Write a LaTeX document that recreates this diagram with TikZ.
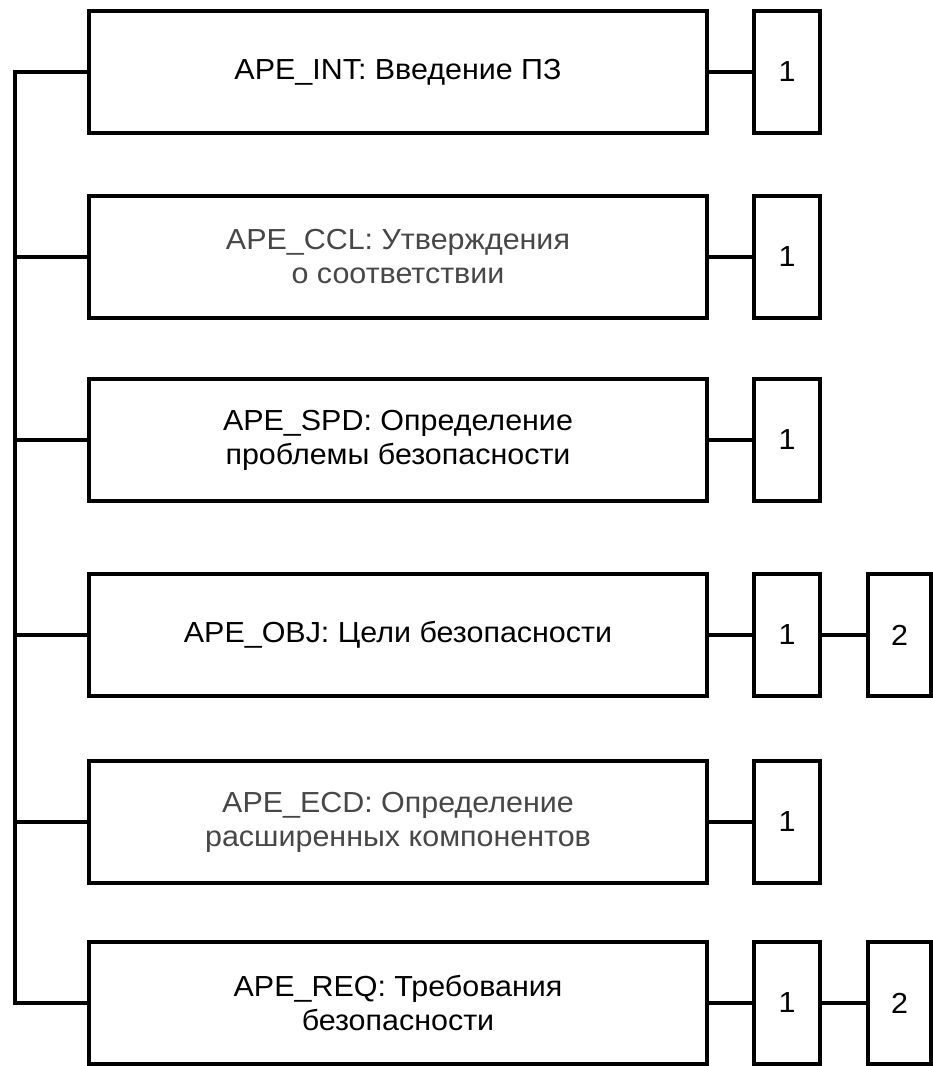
\documentclass[tikz,border=0pt]{standalone}
\usepackage{fontspec}
\setmainfont{Liberation Sans}[FakeStretch=1.05]
\begin{document}
\begin{tikzpicture}[x=1pt,y=-1pt,
  bigbox/.style={draw, line width=4pt, minimum width=618pt, minimum height=122pt, inner sep=0pt, align=center, font=\fontsize{29}{34}\selectfont},
  numbox/.style={draw, line width=4pt, minimum width=66pt, minimum height=122pt, inner sep=0pt, font=\fontsize{29}{34}\selectfont},
  numboxb/.style={numbox, minimum width=63pt},
  light/.style={text=black!72},
  conn/.style={line width=4pt}]
\useasboundingbox (0,0) rectangle (933,1066);
% main boxes
\node[bigbox] (b1) at (398,72) {APE\_INT: Введение ПЗ};
\node[bigbox,light] (b2) at (398,257) {APE\_CCL: Утверждения\\о соответствии};
\node[bigbox] (b3) at (398,440) {APE\_SPD: Определение\\проблемы безопасности};
\node[bigbox] (b4) at (398,635) {APE\_OBJ: Цели безопасности};
\node[bigbox,light] (b5) at (398,822) {APE\_ECD: Определение\\расширенных компонентов};
\node[bigbox] (b6) at (398,1003) {APE\_REQ: Требования\\безопасности};
% level boxes
\node[numbox] (n1) at (787,72) {1};
\node[numbox] (n2) at (787,257) {1};
\node[numbox] (n3) at (787,440) {1};
\node[numbox] (n4) at (787,635) {1};
\node[numbox] (n5) at (787,822) {1};
\node[numbox] (n6) at (787,1003) {1};
\node[numboxb] (m4) at (899.5,635) {2};
\node[numboxb] (m6) at (899.5,1003) {2};
% trunk
\coordinate (t1) at (15,72);
\coordinate (t6) at (15,1003);
\draw[conn] ([yshift=2pt]t1) -- ([yshift=-2pt]t6);
\foreach \i in {1,...,6} {
  \draw[conn] ([xshift=-2pt]t1 |- b\i.west) -- (b\i.west);
}
% right connectors
\foreach \i in {1,...,6} {
  \draw[conn] (b\i.east) -- (n\i.west);
}
\draw[conn] (n4.east) -- (m4.west);
\draw[conn] (n6.east) -- (m6.west);
\end{tikzpicture}
\end{document}
